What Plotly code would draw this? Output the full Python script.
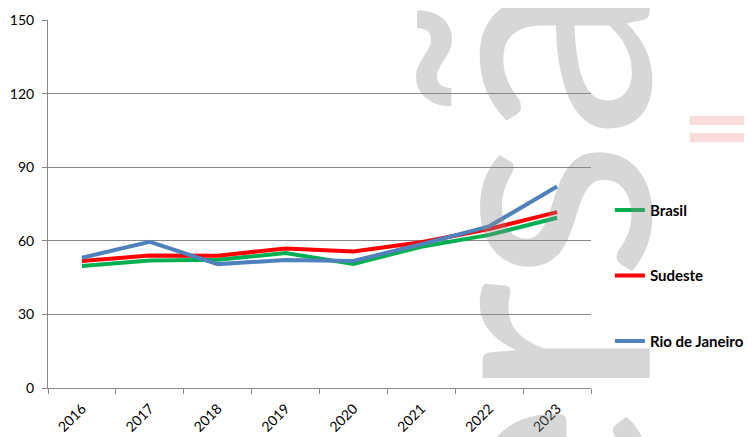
import plotly.graph_objects as go

years = ["2016", "2017", "2018", "2019", "2020", "2021", "2022", "2023"]
brasil = [49.7, 52.0, 52.3, 55.0, 50.6, 57.6, 62.4, 69.4]
sudeste = [51.8, 54.0, 53.9, 56.9, 55.6, 59.4, 64.8, 71.7]
rio = [53.1, 59.6, 50.5, 52.2, 51.8, 58.6, 65.9, 82.1]
series_names = ["Brasil", "Sudeste", "Rio de Janeiro"]
series_colors = ["#00B050", "#FF0000", "#4F81BD"]
y_ticks = [0, 30, 60, 90, 120, 150]

FONT = "Lato, 'Open Sans', sans-serif"

fig = go.Figure()
for i, (name, vals, col) in enumerate(zip(series_names, [brasil, sudeste, rio], series_colors)):
    fig.add_trace(go.Scatter(
        x=years, y=vals, mode="lines", name=name,
        line=dict(color=col, width=4),
        legendgroup=f"g{i}",
    ))

# watermark "versão"
fig.add_annotation(
    text="versão", xref="paper", yref="paper",
    x=0.872, y=0.335, xanchor="center", yanchor="middle",
    textangle=-90, showarrow=False,
    font=dict(family="'Liberation Sans Narrow', Lato, sans-serif", size=330,
              color="rgba(140,140,140,0.35)"),
)
# pink fragment at right
for y0, y1 in [(0.715, 0.739), (0.668, 0.693)]:
    fig.add_shape(type="rect", xref="paper", yref="paper",
                  x0=1.182, x1=1.35, y0=y0, y1=y1,
                  fillcolor="#F9DCDC", line=dict(width=0), layer="below")

# page body has an 8px margin, so the figure is drawn 8px in from the top-left
fig.update_layout(
    width=744, height=429,
    margin=dict(l=40, r=161, t=12, b=49),
    paper_bgcolor="white", plot_bgcolor="white",
    font=dict(family=FONT, size=15, color="#000000"),
    showlegend=True,
    legend=dict(
        xref="container", x=0.809, y=0.528, xanchor="left", yanchor="top",
        font=dict(family=FONT, size=15, color="#000000", weight="bold"),
        tracegroupgap=43, bgcolor="rgba(0,0,0,0)",
    ),
    xaxis=dict(
        type="category", showgrid=False, showline=True, linecolor="#868686", linewidth=1,
        ticks="outside", tickson="boundaries", ticklen=5, tickcolor="#868686",
        tickangle=-45, tickfont=dict(size=14), range=[-0.5, 7.5], automargin=False,
        ticklabelstandoff=6,
    ),
    yaxis=dict(
        range=[0, 150], tickvals=y_ticks, showgrid=True, gridcolor="#868686", gridwidth=1,
        showline=True, linecolor="#868686", linewidth=1, ticks="outside", ticklen=5,
        tickcolor="#868686", zeroline=False, tickfont=dict(size=14), automargin=False,
        ticklabelstandoff=5,
    ),
)

fig.write_html("out.html")
